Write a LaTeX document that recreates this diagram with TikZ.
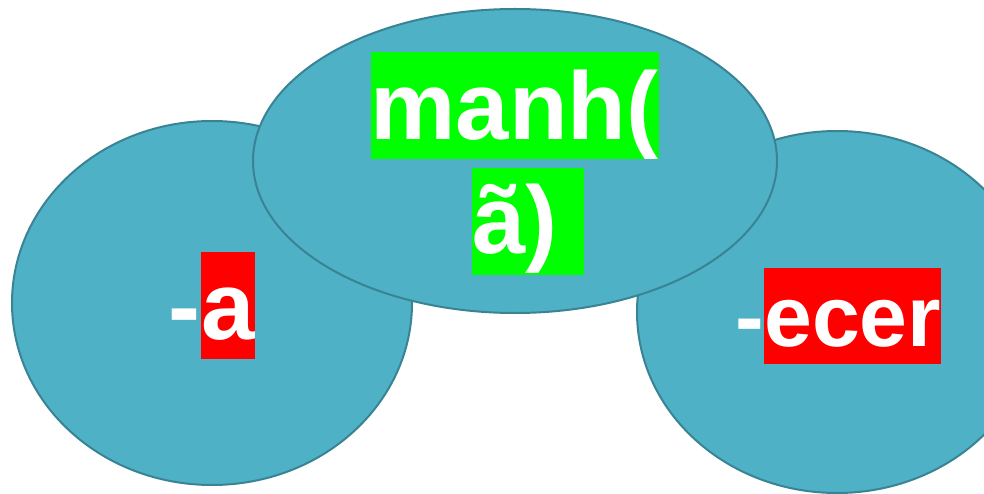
\documentclass[tikz,border=0pt]{standalone}
\usepackage{fontspec}
\setmainfont{Liberation Sans}
\definecolor{blobfill}{RGB}{79,177,198}
\definecolor{blobline}{RGB}{56,131,148}
\definecolor{hlred}{RGB}{255,0,0}
\definecolor{hlgreen}{RGB}{0,255,0}
\begin{document}
\begin{tikzpicture}[x=1pt,y=-1pt,
  blob/.style={fill=blobfill,draw=blobline,line width=2pt},
  bigtxt/.style={text=white,inner sep=0pt,font=\fontsize{96}{107}\selectfont\bfseries},
  midtxt/.style={text=white,inner sep=0pt,font=\fontsize{86}{96}\selectfont\bfseries}]
\useasboundingbox (0,0) rectangle (984,494);
\begin{scope}
\clip (0,0) rectangle (984,494);
\draw[blob] (212,303) ellipse [x radius=200, y radius=182];
\draw[blob] (837,312) ellipse [x radius=200, y radius=181];
\draw[blob] (515,161) ellipse [x radius=262, y radius=152];
\end{scope}
% left
\node[bigtxt,fill=hlred,text height=87pt,text depth=20pt,anchor=base west] (la) at (201,339) {a};
\node[bigtxt,anchor=base east] (lh) at (la.base west) {-};
% middle
\node[bigtxt,fill=hlgreen,text height=88pt,text depth=19pt,anchor=base] (m1) at (514.5,140) {manh(};
\node[bigtxt,fill=hlgreen,text height=86pt,text depth=21pt,anchor=base west] (m2) at (472,254) {ã)\kern26.7pt};
% right
\node[midtxt,fill=hlred,text height=78pt,text depth=18pt,anchor=base west] (re) at (764,346) {ecer};
\node[midtxt,anchor=base east] (rh) at (re.base west) {-};
\end{tikzpicture}
\end{document}
